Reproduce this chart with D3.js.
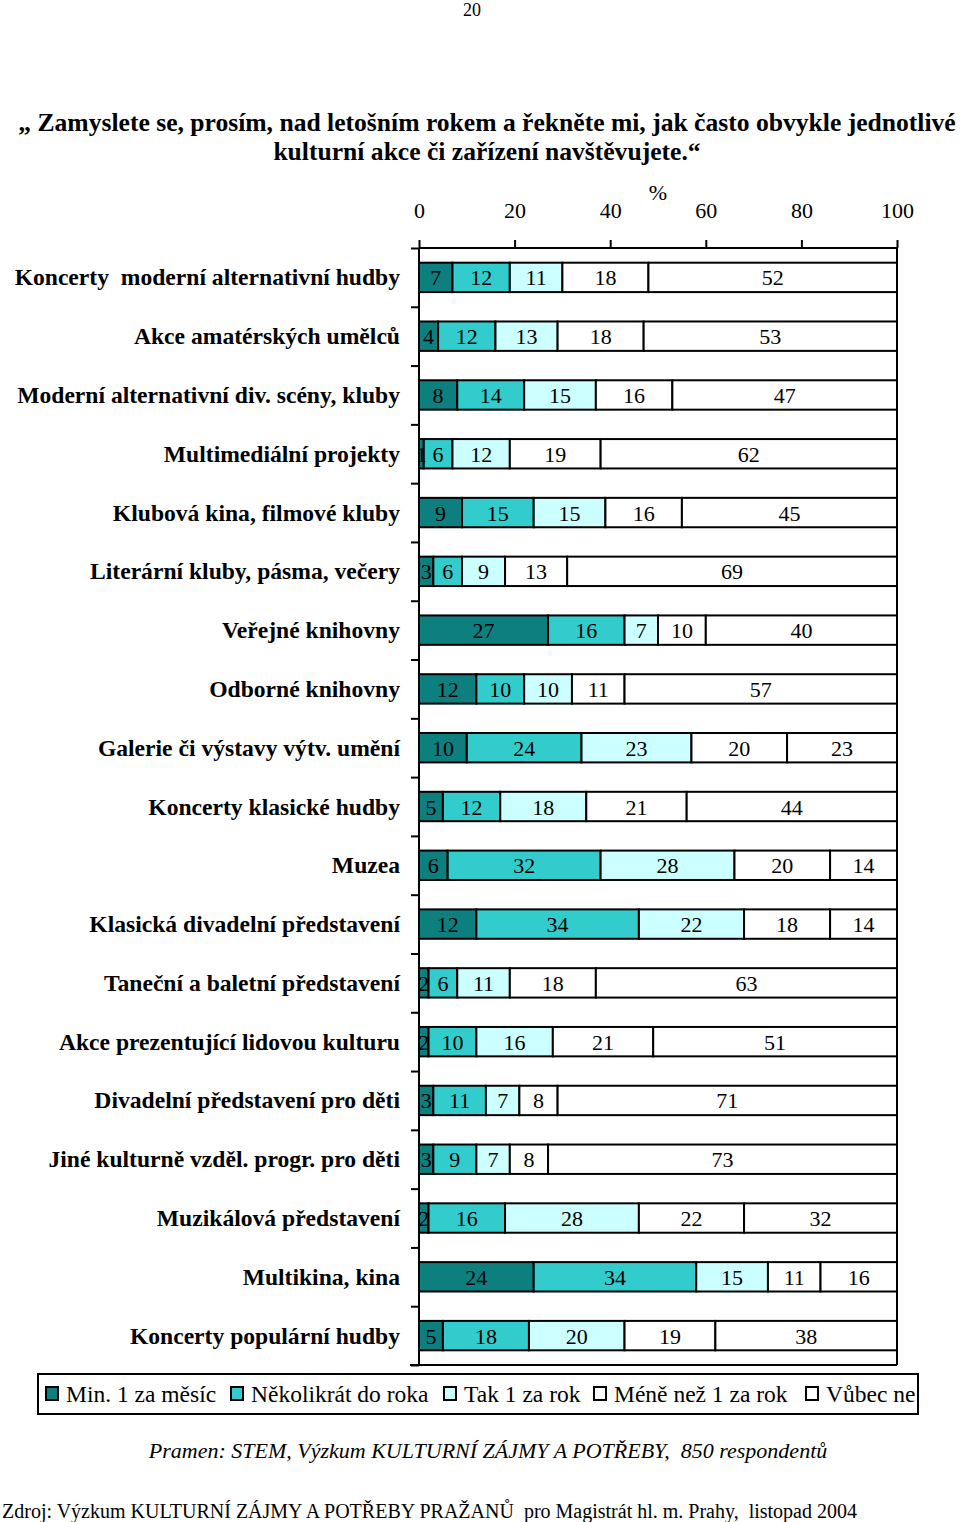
<!DOCTYPE html>
<html><head><meta charset="utf-8">
<script src="https://cdn.jsdelivr.net/npm/d3@7"></script>
<style>
body{margin:0;background:#fff;}
svg text{font-family:"Liberation Serif","Times New Roman",serif;fill:#000;}
</style></head>
<body><svg id="c" width="960" height="1522"></svg>
<script>
const categories = [
 "Koncerty  moderní alternativní hudby","Akce amatérských umělců","Moderní alternativní div. scény, kluby",
 "Multimediální projekty","Klubová kina, filmové kluby","Literární kluby, pásma, večery","Veřejné knihovny",
 "Odborné knihovny","Galerie či výstavy výtv. umění","Koncerty klasické hudby","Muzea",
 "Klasická divadelní představení","Taneční a baletní představení","Akce prezentující lidovou kulturu",
 "Divadelní představení pro děti","Jiné kulturně vzděl. progr. pro děti","Muzikálová představení",
 "Multikina, kina","Koncerty populární hudby"];
const seriesNames = ["Min. 1 za měsíc","Několikrát do roka","Tak 1 za rok","Méně než 1 za rok","Vůbec ne"];
const minMonth   = [7,4,8,1,9,3,27,12,10,5,6,12,2,2,3,3,2,24,5];
const fewYear    = [12,12,14,6,15,6,16,10,24,12,32,34,6,10,11,9,16,34,18];
const onceYear   = [11,13,15,12,15,9,7,10,23,18,28,22,11,16,7,7,28,15,20];
const lessYear   = [18,18,16,19,16,13,10,11,20,21,20,18,18,21,8,8,22,11,19];
const never      = [52,53,47,62,45,69,40,57,23,44,14,14,63,51,71,73,32,16,38];
const xTicks = [0,20,40,60,80,100];
const colors = ["#0e7f7f","#33cccc","#ccffff","#ffffff","#ffffff"];

const svg = d3.select("#c");
const x = d3.scaleLinear().domain([0,100]).range([419,897]);
const y = d3.scaleBand().domain(categories).range([248,1365]).paddingInner(0.5).paddingOuter(0.25);

const rows = categories.map((c,i)=>({cat:c, vals:[minMonth[i],fewYear[i],onceYear[i],lessYear[i],never[i]]}));
const stack = d3.stack().keys([0,1,2,3,4]).value((d,k)=>d.vals[k]);
const layers = stack(rows);

// page number
svg.append("text").attr("x",472).attr("y",16).attr("text-anchor","middle").style("font-size","18px").text("20");
// title
const title = svg.append("text").attr("text-anchor","middle").style("font-size","25.6px").style("font-weight","bold");
title.append("tspan").attr("x",487).attr("y",131).text("„ Zamyslete se, prosím, nad letošním rokem a řekněte mi, jak často obvykle jednotlivé");
title.append("tspan").attr("x",487).attr("y",160).text("kulturní akce či zařízení navštěvujete.“");

// plot frame
const g = svg.append("g");
g.append("line").attr("x1",x(0)).attr("x2",x(100)).attr("y1",248).attr("y2",248).attr("stroke","#000").attr("stroke-width",2);
g.append("line").attr("x1",410).attr("x2",x(100)).attr("y1",1365).attr("y2",1365).attr("stroke","#000").attr("stroke-width",2);
g.append("line").attr("x1",x(100)).attr("x2",x(100)).attr("y1",248).attr("y2",1365).attr("stroke","#000").attr("stroke-width",2);

// bars
layers.forEach((layer,k)=>{
  g.selectAll(null).data(layer).enter().append("rect")
   .attr("x",d=>x(d[0])).attr("width",d=>x(d[1])-x(d[0]))
   .attr("y",d=>y(d.data.cat)).attr("height",y.bandwidth())
   .attr("fill",colors[k]).attr("stroke","#000").attr("stroke-width",2);
});
layers.forEach((layer,k)=>{
  g.selectAll(null).data(layer).enter().append("text")
   .attr("x",d=>(x(d[0])+x(d[1]))/2).attr("y",d=>y(d.data.cat)+y.bandwidth()/2+8)
   .attr("text-anchor","middle").style("font-size","22px")
   .text(d=>d.data.vals[k]);
});

// top axis
const xAxis = d3.axisTop(x).tickValues(xTicks).tickSize(8).tickPadding(22);
const ax = g.append("g").attr("transform","translate(0,248)").call(xAxis);
ax.select(".domain").remove();
ax.selectAll(".tick line").attr("stroke","#000").attr("stroke-width",2);
ax.selectAll(".tick text").style("font-size","22px").attr("font-family",null);
svg.append("text").attr("x",658).attr("y",200).attr("text-anchor","middle").style("font-size","22px").text("%");

// left axis (ticks at category boundaries)
const n = categories.length;
const yEdgeScale = d3.scaleLinear().domain([0,n]).range([248,1365]);
const yAx = d3.axisLeft(yEdgeScale).tickValues(d3.range(n+1)).tickSize(8).tickFormat("");
const ay = g.append("g").attr("transform",`translate(${x(0)},0)`).call(yAx);
ay.select(".domain").attr("stroke","#000").attr("stroke-width",2).attr("d","M0,248V1365");
ay.selectAll(".tick line").attr("stroke","#000").attr("stroke-width",2);
// category labels
g.selectAll(null).data(categories).enter().append("text")
 .attr("x",400).attr("y",d=>y(d)+y.bandwidth()/2+8).attr("text-anchor","end")
 .style("font-size","23.6px").style("font-weight","bold").attr("xml:space","preserve")
 .text(d=>d);

// legend
const lg = svg.append("g");
lg.append("rect").attr("x",38).attr("y",1374).attr("width",880).attr("height",40).attr("fill","#fff").attr("stroke","#000").attr("stroke-width",2);
const legX = [46,231,444,594,806];
seriesNames.forEach((nm,k)=>{
  lg.append("rect").attr("x",legX[k]).attr("y",1387).attr("width",12).attr("height",13).attr("fill",colors[k]).attr("stroke","#000").attr("stroke-width",2);
  lg.append("text").attr("x",legX[k]+20).attr("y",1402).style("font-size","23.5px").text(nm);
});

svg.append("text").attr("x",488).attr("y",1458).attr("text-anchor","middle").style("font-size","22px").style("font-style","italic")
 .attr("xml:space","preserve").text("Pramen: STEM, Výzkum KULTURNÍ ZÁJMY A POTŘEBY,  850 respondentů");
svg.append("text").attr("x",2).attr("y",1518).style("font-size","20px").attr("xml:space","preserve")
 .text("Zdroj: Výzkum KULTURNÍ ZÁJMY A POTŘEBY PRAŽANŮ  pro Magistrát hl. m. Prahy,  listopad 2004");
</script></body></html>
